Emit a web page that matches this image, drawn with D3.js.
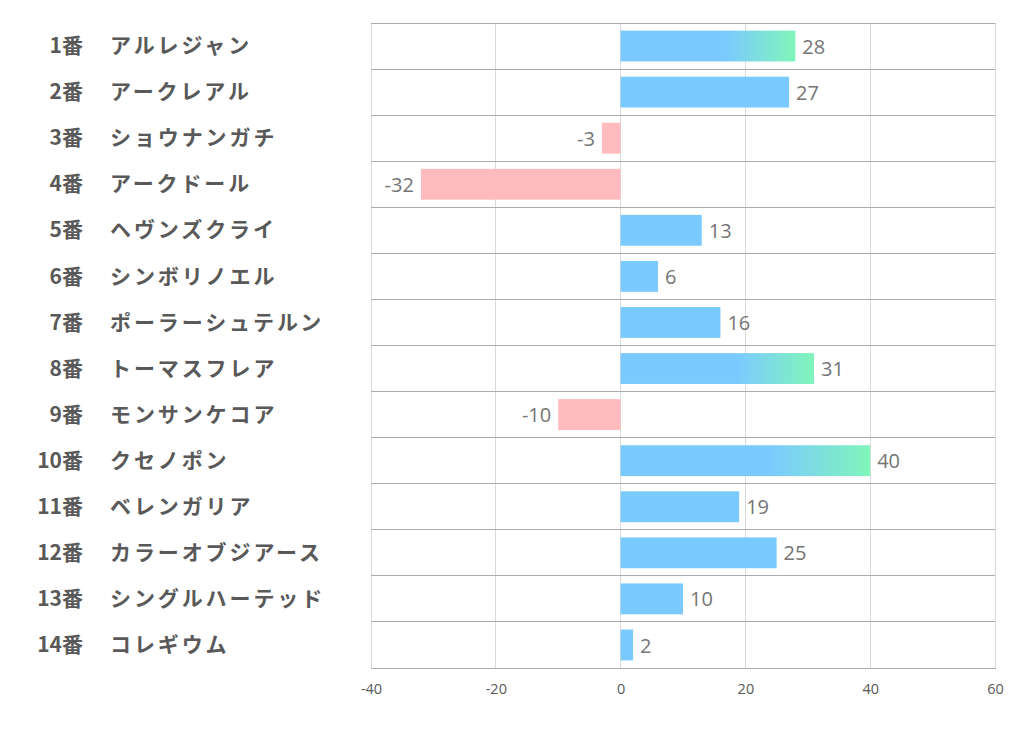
<!DOCTYPE html>
<html><head><meta charset="utf-8">
<script src="https://cdn.jsdelivr.net/npm/d3@7"></script>
<style>body{margin:0;background:#fff;} svg{display:block;}</style>
</head><body>
<svg id="c" width="1022" height="730"></svg>
<script>
const nums = ["1番","2番","3番","4番","5番","6番","7番","8番","9番","10番","11番","12番","13番","14番"];
const names = ["アルレジャン","アークレアル","ショウナンガチ","アークドール","ヘヴンズクライ","シンボリノエル","ポーラーシュテルン","トーマスフレア","モンサンケコア","クセノポン","ベレンガリア","カラーオブジアース","シングルハーテッド","コレギウム"];
const values = [28,27,-3,-32,13,6,16,31,-10,40,19,25,10,2];
const ticks = [-40,-20,0,20,40,60];
const gradThreshold = 28;

const svg = d3.select("#c");
const m = {l:371, r:995, t:23, b:668};
const x = d3.scaleLinear().domain([-40,60]).range([m.l,m.r]);
const y = d3.scaleBand().domain(d3.range(values.length)).range([m.t,m.b]).paddingInner(0.33).paddingOuter(0.165);
const step = y.step();

const defs = svg.append("defs");
values.forEach((v,i)=>{
  if (v>=gradThreshold){
    const g = defs.append("linearGradient").attr("id","g"+i).attr("x1","0").attr("x2","1").attr("y1","0").attr("y2","0");
    g.append("stop").attr("offset","0.6").attr("stop-color","#7BCAFF");
    g.append("stop").attr("offset","1").attr("stop-color","#80F5BA");
  }
});

svg.append("g").selectAll("line").data(ticks).join("line")
  .attr("x1",d=>x(d)).attr("x2",d=>x(d)).attr("y1",m.t).attr("y2",m.b)
  .attr("stroke","#d9d9d9").attr("stroke-width",1).attr("shape-rendering","crispEdges");
svg.append("g").selectAll("line").data(d3.range(values.length+1)).join("line")
  .attr("x1",m.l).attr("x2",m.r).attr("y1",d=>m.t+d*step).attr("y2",d=>m.t+d*step)
  .attr("stroke","#ababab").attr("stroke-width",1).attr("shape-rendering","crispEdges");

svg.append("g").selectAll("rect").data(values).join("rect")
  .attr("x",d=>x(Math.min(0,d))).attr("width",d=>Math.abs(x(d)-x(0)))
  .attr("y",(d,i)=>y(i)).attr("height",y.bandwidth())
  .attr("fill",(d,i)=>d<0?"#FFBBBD":(d>=gradThreshold?`url(#g${i})`:"#7BCAFF"));

svg.append("g").selectAll("text").data(values).join("text")
  .attr("x",d=>d<0?x(d)-7:x(d)+7)
  .attr("y",(d,i)=>y(i)+y.bandwidth()/2)
  .attr("dy","0.38em")
  .attr("text-anchor",d=>d<0?"end":"start")
  .attr("font-family","'Open Sans','Noto Sans',sans-serif").attr("font-size",20)
  .attr("fill","#757575").text(d=>d);

const lab = svg.append("g");
lab.selectAll("text.n").data(nums).join("text").attr("class","n")
  .attr("x",83).attr("y",(d,i)=>y(i)+y.bandwidth()/2).attr("dy","0.34em")
  .attr("text-anchor","end").attr("font-family","'Noto Sans CJK JP',sans-serif")
  .attr("font-weight","bold").attr("font-size",21).attr("fill","#595959").text(d=>d);
lab.selectAll("text.m").data(names).join("text").attr("class","m")
  .attr("x",110).attr("y",(d,i)=>y(i)+y.bandwidth()/2).attr("dy","0.34em")
  .attr("text-anchor","start").attr("font-family","'Noto Sans CJK JP',sans-serif")
  .attr("letter-spacing",2.9)
  .attr("font-weight","bold").attr("font-size",21).attr("fill","#595959").text(d=>d);

const ax = svg.append("g").attr("transform",`translate(0,${m.b})`)
  .call(d3.axisBottom(x).tickValues(ticks).tickSize(0).tickPadding(16).tickFormat(d=>String(d)));
ax.select(".domain").attr("stroke","#ababab").attr("shape-rendering","crispEdges");
ax.selectAll("text").attr("font-family","'Open Sans','Noto Sans',sans-serif").attr("font-size",14.5).attr("fill","#595959");
</script>
</body></html>
